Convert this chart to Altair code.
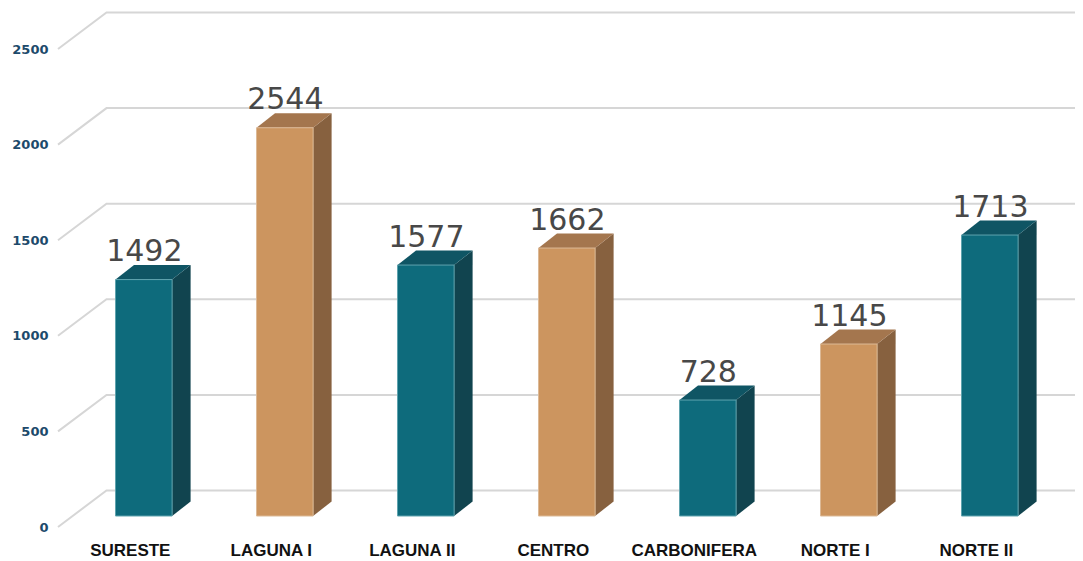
import altair as alt
import pandas as pd

categories = ["SURESTE", "LAGUNA I", "LAGUNA II", "CENTRO", "CARBONIFERA", "NORTE I", "NORTE II"]
labels = [1492, 2544, 1577, 1662, 728, 1145, 1713]
heights = [1294, 2088, 1370, 1459, 664, 957, 1527]
palette = ["teal", "tan", "teal", "tan", "teal", "tan", "teal"]
ticks = [0, 500, 1000, 1500, 2000, 2500]

front_col = {"teal": "#0e6b7c", "tan": "#cc955f"}
side_col = {"teal": "#11444f", "tan": "#87613f"}
top_col = {"teal": "#0f5564", "tan": "#a4764e"}
edge_col = {"teal": "#5fa3ae", "tan": "#dcb996"}

PX_X = 141.0
PX_Y = 0.1912
X_DOMAIN = [(8 - 143.8) / PX_X, (1075 - 143.8) / PX_X]
Y_DOMAIN = [(527 - 559) / PX_Y, (527 - 8) / PX_Y]

half = 28.3 / PX_X
bar_dx = 18.5 / PX_X
bar_dy = 14.5 / PX_Y
base = 11 / PX_Y
wall_x0 = (58 - 143.8) / PX_X
wall_dx = 48.5 / PX_X
wall_dy = 36.5 / PX_Y

x_scale = alt.Scale(domain=X_DOMAIN, nice=False, zero=False)
y_scale = alt.Scale(domain=Y_DOMAIN, nice=False, zero=False)

grid_rows = []
for t in ticks:
    grid_rows.append({"t": t, "x": wall_x0, "y": t})
    grid_rows.append({"t": t, "x": wall_x0 + wall_dx, "y": t + wall_dy})
    grid_rows.append({"t": t, "x": X_DOMAIN[1], "y": t + wall_dy})
grid_df = pd.DataFrame(grid_rows)

front_rows, side_rows, top_rows = [], [], []
for i, (h, p) in enumerate(zip(heights, palette)):
    x0, x1 = i - half, i + half
    front_rows.append({"x": x0, "x2": x1, "y": h, "y2": base, "fill": front_col[p], "edge": edge_col[p]})
    side_rows.append({"b": i, "x": x1, "y": h, "y2": base, "fill": side_col[p]})
    side_rows.append({"b": i, "x": x1 + bar_dx, "y": h + bar_dy, "y2": base + bar_dy, "fill": side_col[p]})
    for xx, up, lo in [
        (x0, h, h),
        (x0 + bar_dx, h + bar_dy, h),
        (x1, h + bar_dy, h),
        (x1 + bar_dx, h + bar_dy, h + bar_dy),
    ]:
        top_rows.append({"b": i, "x": xx, "y": up, "y2": lo, "fill": top_col[p]})
front_df = pd.DataFrame(front_rows)
side_df = pd.DataFrame(side_rows)
top_df = pd.DataFrame(top_rows)
text_df = pd.DataFrame({"x": list(range(len(labels))), "y": heights, "label": [str(v) for v in labels]})

names_js = "[" + ",".join(f"'{c}'" for c in categories) + "]"

grid = alt.Chart(grid_df).mark_line(color="#d6d6d6", strokeWidth=2).encode(
    x=alt.X(
        "x:Q", scale=x_scale, title=None,
        axis=alt.Axis(
            values=list(range(len(categories))), labelExpr=f"{names_js}[datum.value]",
            grid=False, domain=False, ticks=False, labelPadding=-17, labelOffset=-14,
            labelFont="Liberation Sans", labelFontWeight="bold", labelFontSize=17,
            labelColor="#111111", labelFlush=False, labelOverlap=False, labelBound=False,
        ),
    ),
    y=alt.Y(
        "y:Q", scale=y_scale, title=None,
        axis=alt.Axis(
            values=ticks, format="d", grid=False, domain=False, ticks=False, labelPadding=-40,
            labelFont="DejaVu Sans", labelFontWeight="bold", labelFontSize=13,
            labelColor="#1d4a6b", labelFlush=False, labelOverlap=False, labelBound=False,
        ),
    ),
    detail="t:N",
)

x_ = alt.X("x:Q", scale=x_scale)
y_ = alt.Y("y:Q", scale=y_scale)

side = alt.Chart(side_df).mark_area(interpolate="linear").encode(
    x=x_, y=y_, y2="y2:Q", detail="b:N", fill=alt.Fill("fill:N", scale=None)
)
top = alt.Chart(top_df).mark_area(interpolate="linear").encode(
    x=x_, y=y_, y2="y2:Q", detail="b:N", fill=alt.Fill("fill:N", scale=None)
)
front = alt.Chart(front_df).mark_rect(strokeWidth=1).encode(
    x=x_, x2="x2:Q", y=y_, y2="y2:Q",
    fill=alt.Fill("fill:N", scale=None), stroke=alt.Stroke("edge:N", scale=None),
)
text = alt.Chart(text_df).mark_text(
    font="DejaVu Sans", fontSize=30, color="#484848", baseline="alphabetic", align="center", dx=0.5, dy=-18.5
).encode(x=x_, y=y_, text="label:N")

chart = alt.layer(grid, side, top, front, text).properties(
    width=1067, height=551, padding=0, background="white",
    autosize=alt.AutoSizeParams(type="none"),
).configure_view(stroke=None)

chart.save("out.html", embed_options={"renderer": "svg", "actions": False})
